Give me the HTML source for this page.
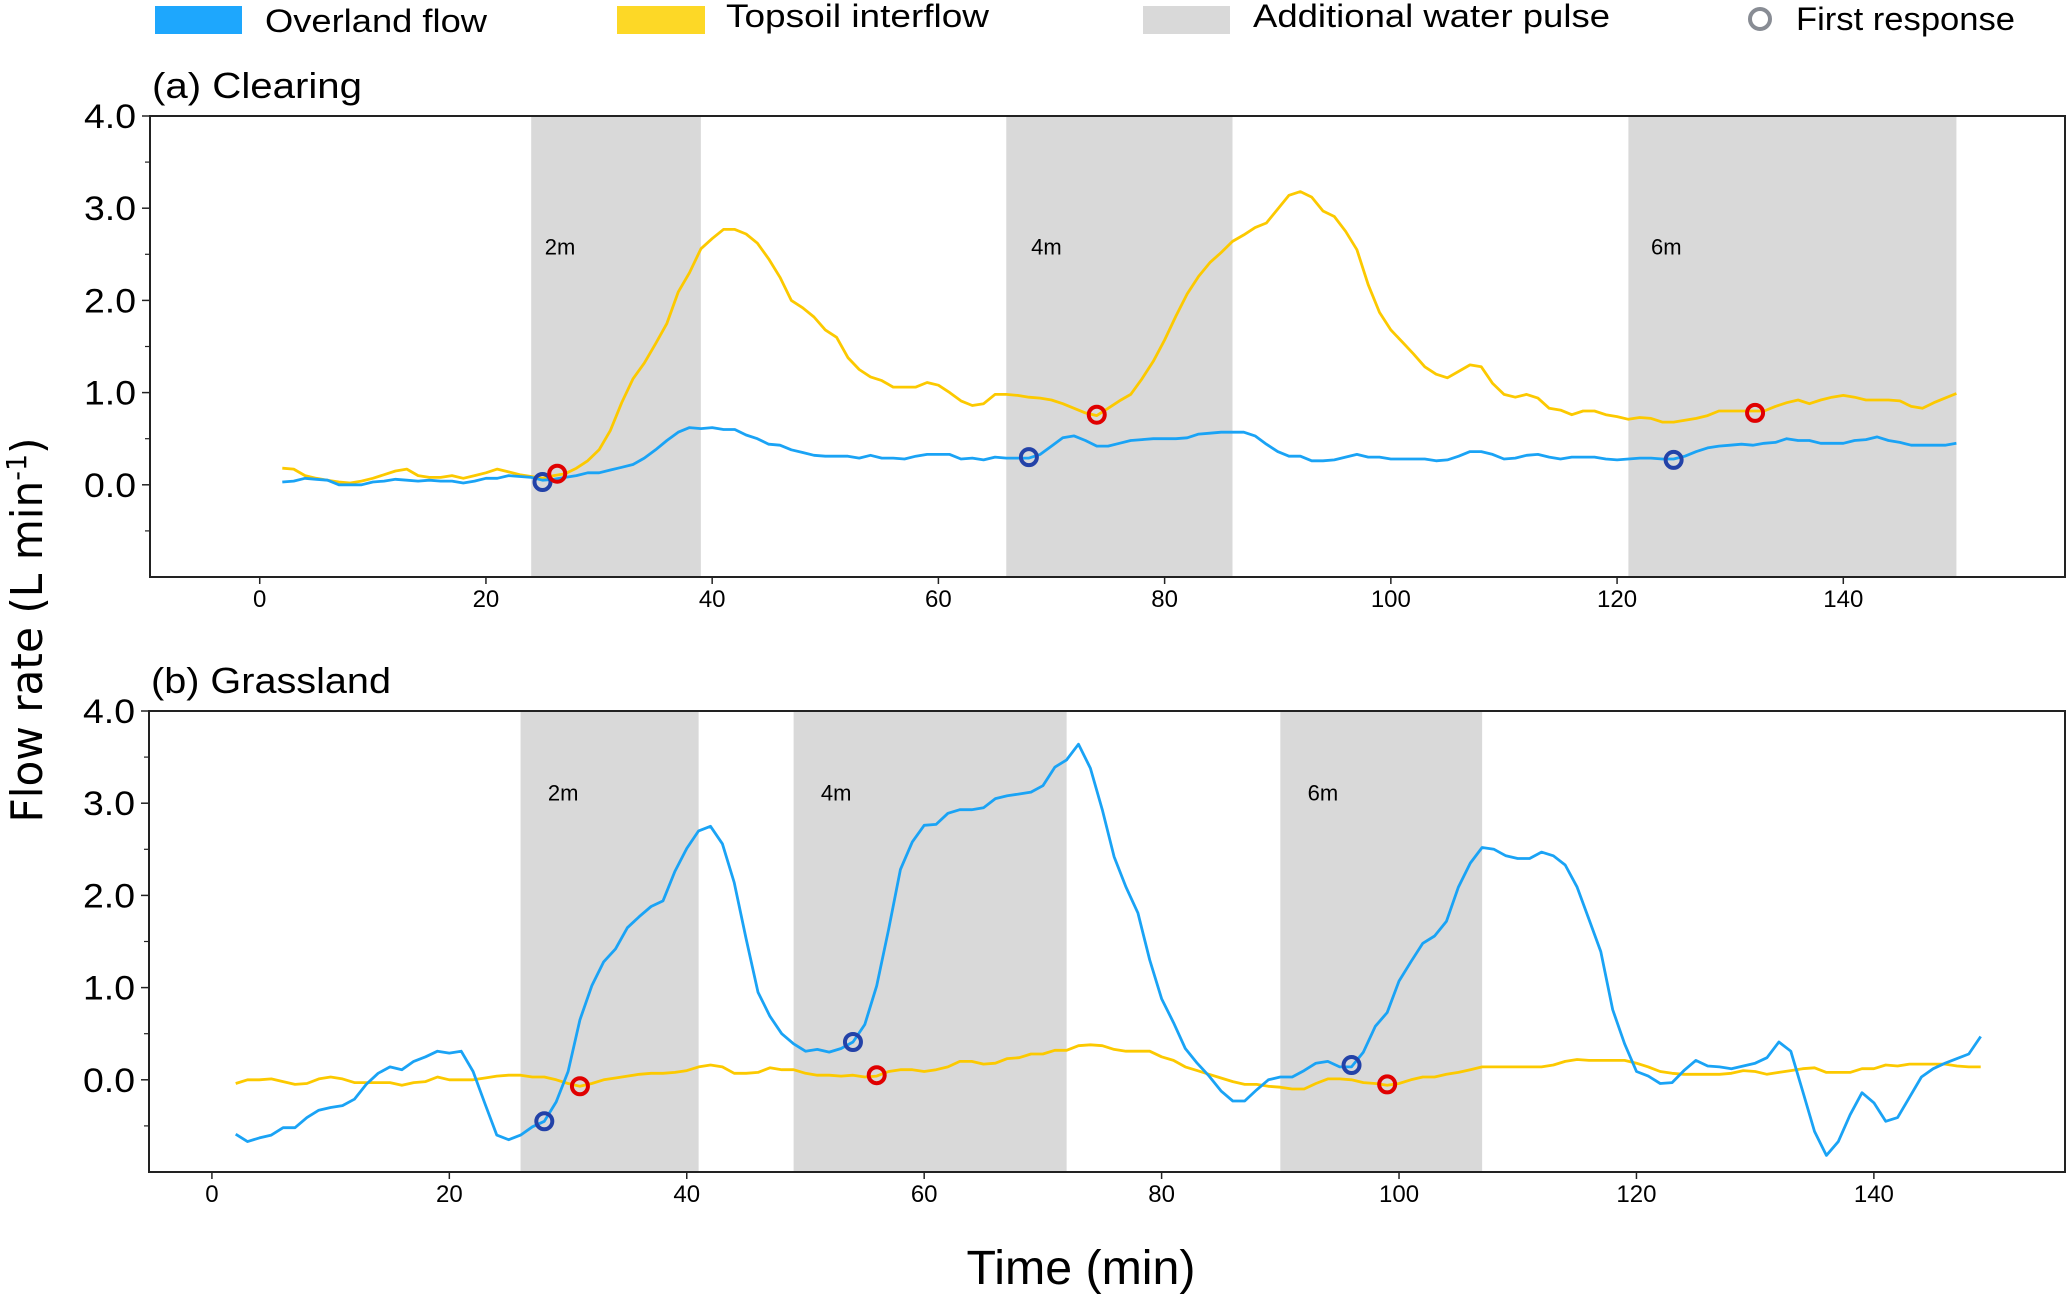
<!DOCTYPE html>
<html><head><meta charset="utf-8"><style>
html,body{margin:0;padding:0;background:#fff;}
svg{display:block;}
text{font-family:"Liberation Sans",sans-serif;fill:#000;}
</style></head><body>
<svg id="chart" width="2067" height="1295" viewBox="0 0 2067 1295" xmlns="http://www.w3.org/2000/svg">
  <g>
    <rect x="155" y="6" width="87" height="28" fill="#1ea7fd"/>
    <text x="265" y="32" font-size="32" textLength="222" lengthAdjust="spacingAndGlyphs">Overland flow</text>
    <rect x="617" y="6" width="88" height="28" fill="#fdd826"/>
    <text x="726" y="27" font-size="32" textLength="263" lengthAdjust="spacingAndGlyphs">Topsoil interflow</text>
    <rect x="1143" y="6" width="87" height="28" fill="#d9d9d9"/>
    <text x="1253" y="27" font-size="32" textLength="357" lengthAdjust="spacingAndGlyphs">Additional water pulse</text>
    <circle cx="1760" cy="19" r="10" fill="none" stroke="#888c94" stroke-width="4"/>
    <text x="1796" y="30" font-size="32" textLength="219" lengthAdjust="spacingAndGlyphs">First response</text>
  </g>
  <text transform="translate(42,630) rotate(-90)" text-anchor="middle" font-size="44" style="font-family:'DejaVu Sans',sans-serif" textLength="385" lengthAdjust="spacingAndGlyphs">Flow rate (L min<tspan dy="-16" font-size="28">-1</tspan><tspan dy="16">)</tspan></text>
  <text x="1081" y="1284" text-anchor="middle" font-size="48" textLength="229" lengthAdjust="spacingAndGlyphs">Time (min)</text>
</svg>
<script>
// ---------- data ----------
const tStartA = 2;
const overlandA = [0.03,0.04,0.07,0.06,0.05,0.0,0.0,0.0,0.03,0.04,
0.06,0.05,0.04,0.05,0.04,0.04,0.02,0.04,0.07,0.07,
0.1,0.09,0.08,0.05,0.06,0.08,0.1,0.13,0.13,0.16,
0.19,0.22,0.29,0.38,0.48,0.57,0.62,0.61,0.62,0.6,
0.6,0.54,0.5,0.44,0.43,0.38,0.35,0.32,0.31,0.31,
0.31,0.29,0.32,0.29,0.29,0.28,0.31,0.33,0.33,0.33,
0.28,0.29,0.27,0.3,0.29,0.29,0.29,0.33,0.42,0.51,
0.53,0.48,0.42,0.42,0.45,0.48,0.49,0.5,0.5,0.5,
0.51,0.55,0.56,0.57,0.57,0.57,0.53,0.44,0.36,0.31,
0.31,0.26,0.26,0.27,0.3,0.33,0.3,0.3,0.28,0.28,
0.28,0.28,0.26,0.27,0.31,0.36,0.36,0.33,0.28,0.29,
0.32,0.33,0.3,0.28,0.3,0.3,0.3,0.28,0.27,0.28,
0.29,0.29,0.28,0.28,0.31,0.36,0.4,0.42,0.43,0.44,
0.43,0.45,0.46,0.5,0.48,0.48,0.45,0.45,0.45,0.48,
0.49,0.52,0.48,0.46,0.43,0.43,0.43,0.43,0.45];
const topsoilA = [0.18,0.17,0.1,0.07,0.05,0.03,0.02,0.04,0.07,0.11,
0.15,0.17,0.1,0.08,0.08,0.1,0.07,0.1,0.13,0.17,
0.14,0.11,0.09,0.07,0.1,0.12,0.18,0.26,0.38,0.59,
0.89,1.15,1.32,1.53,1.75,2.09,2.3,2.56,2.67,2.77,
2.77,2.72,2.62,2.45,2.25,2.0,1.92,1.82,1.68,1.6,
1.38,1.25,1.17,1.13,1.06,1.06,1.06,1.11,1.08,1.0,
0.91,0.86,0.88,0.98,0.98,0.97,0.95,0.94,0.92,0.88,
0.83,0.78,0.75,0.83,0.91,0.98,1.15,1.34,1.57,1.83,
2.07,2.26,2.41,2.52,2.64,2.71,2.79,2.84,2.99,3.14,
3.18,3.12,2.97,2.91,2.75,2.55,2.17,1.87,1.68,1.55,
1.42,1.28,1.2,1.16,1.23,1.3,1.28,1.1,0.98,0.95,
0.98,0.94,0.83,0.81,0.76,0.8,0.8,0.76,0.74,0.71,
0.73,0.72,0.68,0.68,0.7,0.72,0.75,0.8,0.8,0.8,
0.8,0.8,0.85,0.89,0.92,0.88,0.92,0.95,0.97,0.95,
0.92,0.92,0.92,0.91,0.85,0.83,0.89,0.94,0.99];
const pulsesA = [[24,39],[66,86],[121,150]];
const pulseLabelsA = ["2m","4m","6m"];
const pulseLabelXA = [25.2,68.2,123.0];
const respOverlandA = [[25,0.03],[68,0.3],[125,0.27]];
const respTopsoilA = [[26.3,0.12],[74,0.76],[132.2,0.78]];

const tStartB = 2;
const overlandB = [-0.59,-0.67,-0.63,-0.6,-0.52,-0.52,-0.41,-0.33,-0.3,-0.28,
-0.21,-0.05,0.07,0.14,0.11,0.2,0.25,0.31,0.29,0.31,
0.09,-0.26,-0.6,-0.65,-0.6,-0.51,-0.45,-0.24,0.09,0.65,
1.02,1.28,1.42,1.65,1.77,1.88,1.94,2.26,2.51,2.7,
2.75,2.56,2.14,1.53,0.95,0.69,0.5,0.39,0.31,0.33,
0.3,0.34,0.41,0.6,1.02,1.63,2.28,2.58,2.76,2.77,
2.89,2.93,2.93,2.95,3.05,3.08,3.1,3.12,3.19,3.39,
3.47,3.64,3.38,2.93,2.42,2.09,1.81,1.3,0.88,0.62,
0.34,0.18,0.04,-0.12,-0.23,-0.23,-0.11,0,0.03,0.03,
0.1,0.18,0.2,0.14,0.14,0.3,0.58,0.73,1.07,1.28,
1.48,1.56,1.72,2.09,2.35,2.52,2.5,2.43,2.4,2.4,
2.47,2.43,2.33,2.09,1.74,1.39,0.76,0.39,0.09,0.04,
-0.04,-0.03,0.1,0.21,0.15,0.14,0.12,0.15,0.18,0.24,
0.41,0.31,-0.12,-0.56,-0.82,-0.67,-0.38,-0.14,-0.25,-0.45,
-0.41,-0.19,0.03,0.12,0.18,0.23,0.28,0.47];
const topsoilB = [-0.04,0,0,0.01,-0.02,-0.05,-0.04,0.01,0.03,0.01,
-0.03,-0.03,-0.03,-0.03,-0.06,-0.03,-0.02,0.03,0,0,
0,0.02,0.04,0.05,0.05,0.03,0.03,0,-0.04,-0.07,
-0.04,0,0.02,0.04,0.06,0.07,0.07,0.08,0.1,0.14,
0.16,0.14,0.07,0.07,0.08,0.13,0.11,0.11,0.07,0.05,
0.05,0.04,0.05,0.03,0.04,0.09,0.11,0.11,0.09,0.11,
0.14,0.2,0.2,0.17,0.18,0.23,0.24,0.28,0.28,0.32,
0.32,0.37,0.38,0.37,0.33,0.31,0.31,0.31,0.25,0.21,
0.14,0.1,0.06,0.02,-0.02,-0.05,-0.05,-0.07,-0.08,-0.1,
-0.1,-0.04,0.01,0.01,0,-0.03,-0.04,-0.06,-0.04,0,
0.03,0.03,0.06,0.08,0.11,0.14,0.14,0.14,0.14,0.14,
0.14,0.16,0.2,0.22,0.21,0.21,0.21,0.21,0.18,0.14,
0.09,0.07,0.06,0.06,0.06,0.06,0.07,0.1,0.09,0.06,
0.08,0.1,0.12,0.13,0.08,0.08,0.08,0.12,0.12,0.16,
0.15,0.17,0.17,0.17,0.17,0.15,0.14,0.14];
const pulsesB = [[26,41],[49,72],[90,107]];
const pulseLabelsB = ["2m","4m","6m"];
const pulseLabelXB = [28.3,51.3,92.3];
const respOverlandB = [[28,-0.45],[54,0.41],[96,0.16]];
const respTopsoilB = [[31,-0.07],[56,0.05],[99,-0.05]];

const xTicks = [0,20,40,60,80,100,120,140];
const yTicks = [0,1,2,3,4];
const yTickLabels = ["0.0","1.0","2.0","3.0","4.0"];
const yMinorTicks = [-0.5,0.5,1.5,2.5,3.5];

// ---------- drawing ----------
const NS = "http://www.w3.org/2000/svg";
const svg = document.getElementById("chart");
function mk(tag, attrs, parent){
  const e = document.createElementNS(NS, tag);
  for (const k in attrs) e.setAttribute(k, attrs[k]);
  (parent||svg).appendChild(e);
  return e;
}

function panel(cfg){
  const g = mk("g", {});
  
  
  const X = v => cfg.left + (v - cfg.xmin) / (cfg.xmax - cfg.xmin) * (cfg.right - cfg.left);
  const Y = v => cfg.bottom - (v - cfg.ymin) / (cfg.ymax - cfg.ymin) * (cfg.bottom - cfg.top);

  cfg.pulses.forEach((p, i) => {
    const r = mk("rect", {x: X(p[0]), y: cfg.top, width: X(p[1]) - X(p[0]), height: cfg.bottom - cfg.top, fill: "#d9d9d9"}, g);
    
    
    const t = mk("text", {x: X(cfg.labelX[i]), y: Y(cfg.labelY), "font-size": 22}, g);
    
    
    t.textContent = cfg.pulseLabels[i];
  });

  function line(vals, color, nm){
    const pts = vals.map((v, i) => X(cfg.t0 + i).toFixed(1) + "," + Y(v).toFixed(1)).join(" ");
    const pl = mk("polyline", {points: pts, fill: "none", stroke: color, "stroke-width": 2.8, "stroke-linejoin": "round"}, g);
    
    
  }
  line(cfg.topsoil, "#fcc900", "topsoil-interflow-line");
  line(cfg.overland, "#1aa3f5", "overland-flow-line");

  function markers(list, color, nm){
    list.forEach(m => {
      const c = mk("circle", {cx: X(m[0]), cy: Y(m[1]), r: 8, fill: "none", stroke: color, "stroke-width": 4}, g);
      
      
    });
  }
  markers(cfg.respO, "#2342a8", "overland-first-response");
  markers(cfg.respT, "#e00000", "topsoil-first-response");

  const fr = mk("rect", {x: cfg.left, y: cfg.top, width: cfg.right - cfg.left, height: cfg.bottom - cfg.top, fill: "none", stroke: "#222", "stroke-width": 2}, g);
  
  

  xTicks.forEach(v => {
    const tk = mk("line", {x1: X(v), x2: X(v), y1: cfg.bottom, y2: cfg.bottom + 7, stroke: "#222", "stroke-width": 1.5}, g);
    
    
    const tl = mk("text", {x: X(v), y: cfg.bottom + 30, "text-anchor": "middle", "font-size": 24}, g);
    
    
    tl.textContent = v;
  });
  yTicks.forEach((v, i) => {
    const tk = mk("line", {x1: cfg.left - 8, x2: cfg.left, y1: Y(v), y2: Y(v), stroke: "#222", "stroke-width": 1.5}, g);
    
    
    const tl = mk("text", {x: cfg.left - 14, y: Y(v) + 12, "text-anchor": "end", "font-size": 34, textLength: 52, lengthAdjust: "spacingAndGlyphs"}, g);
    
    
    tl.textContent = yTickLabels[i];
  });
  yMinorTicks.forEach(v => {
    const tk = mk("line", {x1: cfg.left - 5, x2: cfg.left, y1: Y(v), y2: Y(v), stroke: "#222", "stroke-width": 1.2}, g);
    
    
  });
  const ti = mk("text", {x: cfg.left + 2, y: cfg.top - 18, "font-size": 36, textLength: cfg.titleLen, lengthAdjust: "spacingAndGlyphs"}, g);
  
  
  ti.textContent = cfg.title;
}

panel({name: "panel-clearing", title: "(a) Clearing", titleLen: 210,
  left: 150, right: 2065, top: 116, bottom: 577, xmin: -9.7, xmax: 159.6, ymin: -1, ymax: 4,
  t0: tStartA, overland: overlandA, topsoil: topsoilA, pulses: pulsesA, pulseLabels: pulseLabelsA,
  labelX: pulseLabelXA, labelY: 2.5,
  respO: respOverlandA, respT: respTopsoilA});
panel({name: "panel-grassland", title: "(b) Grassland", titleLen: 240,
  left: 149, right: 2065, top: 711, bottom: 1172, xmin: -5.3, xmax: 156.1, ymin: -1, ymax: 4,
  t0: tStartB, overland: overlandB, topsoil: topsoilB, pulses: pulsesB, pulseLabels: pulseLabelsB,
  labelX: pulseLabelXB, labelY: 3.03,
  respO: respOverlandB, respT: respTopsoilB});
</script>
</body></html>
